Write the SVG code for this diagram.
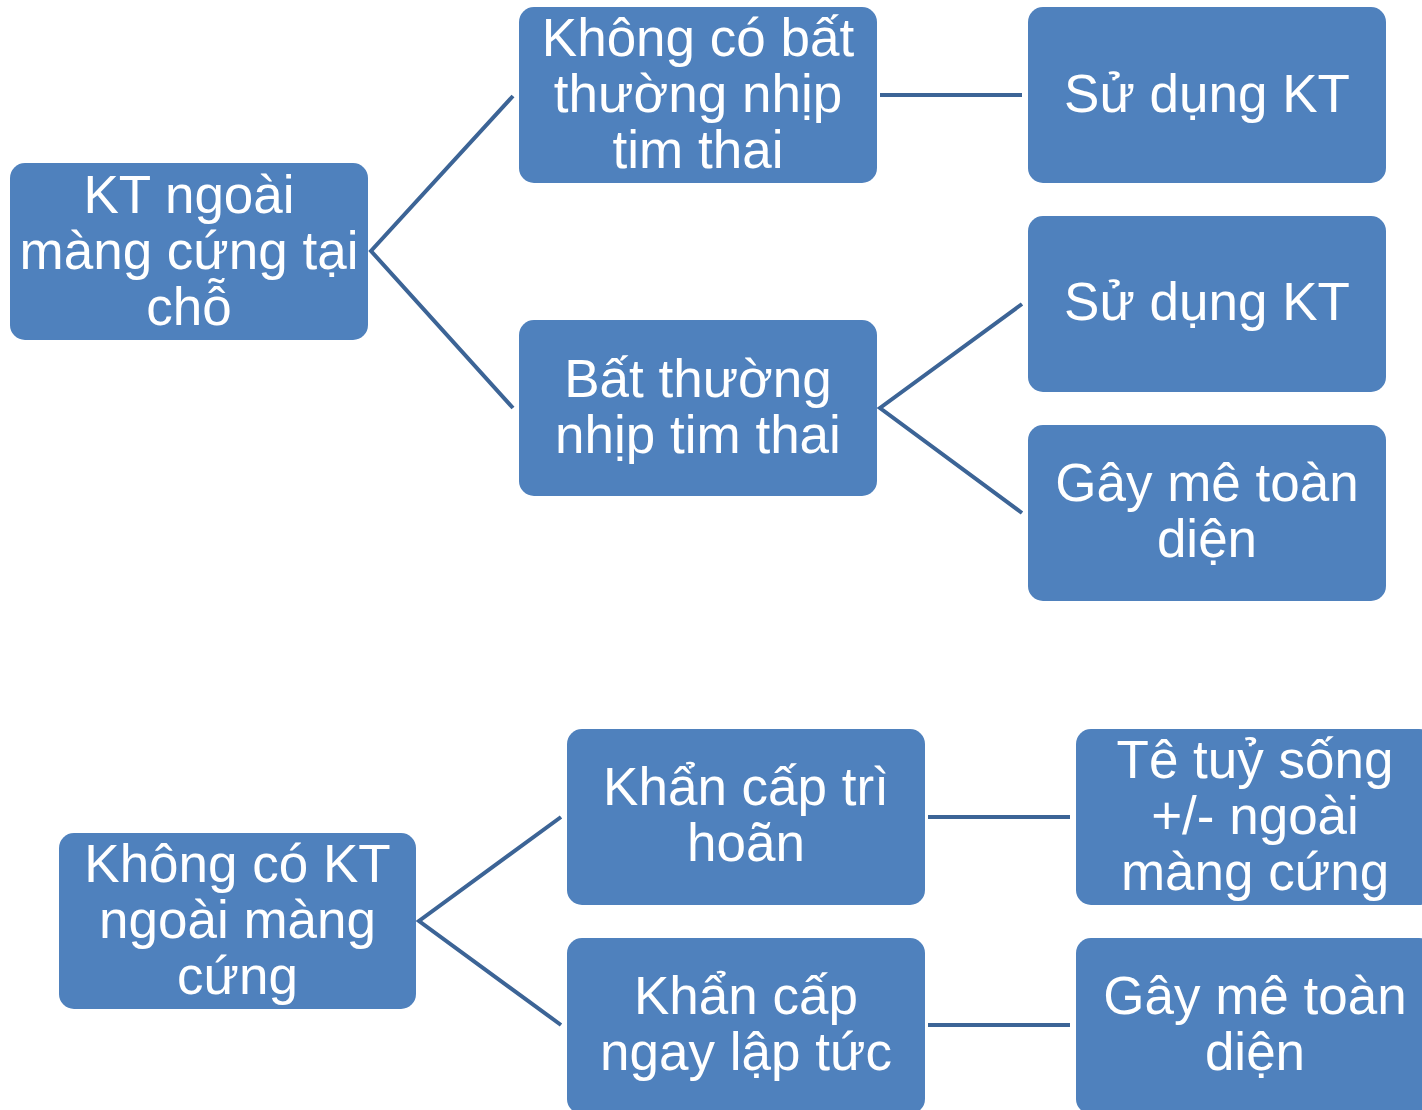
<svg xmlns="http://www.w3.org/2000/svg" width="1422" height="1110" viewBox="0 0 1422 1110">
<style>
.box{fill:#4F81BD;}
.t{font-family:"Liberation Sans",Arial,sans-serif;font-size:53px;fill:#FFFFFF;text-anchor:middle;}
.c{stroke:#3C6496;stroke-width:4;fill:none;}
</style>
<rect width="1422" height="1110" fill="#FFFFFF"/>
<g id="connectors">
<polyline class="c" points="513,96 371,251 513,408"/>
<line class="c" x1="880" y1="95" x2="1022" y2="95"/>
<polyline class="c" points="1022,304 880,408 1022,513"/>
<polyline class="c" points="561,817 419,921 561,1025"/>
<line class="c" x1="928" y1="817" x2="1070" y2="817"/>
<line class="c" x1="928" y1="1025" x2="1070" y2="1025"/>
</g>
<g id="root1">
<rect class="box" x="10" y="163" width="358" height="177" rx="15"/>
<text class="t"><tspan x="189" y="213">KT ngoài</tspan><tspan x="189" y="269">màng cứng tại</tspan><tspan x="189" y="325">chỗ</tspan></text>
</g>
<g id="nodeA">
<rect class="box" x="519" y="7" width="358" height="176" rx="15"/>
<text class="t"><tspan x="698" y="56">Không có bất</tspan><tspan x="698" y="112">thường nhịp</tspan><tspan x="698" y="168">tim thai</tspan></text>
</g>
<g id="nodeB">
<rect class="box" x="519" y="320" width="358" height="176" rx="15"/>
<text class="t"><tspan x="698" y="397">Bất thường</tspan><tspan x="698" y="453">nhịp tim thai</tspan></text>
</g>
<g id="nodeC">
<rect class="box" x="1028" y="7" width="358" height="176" rx="15"/>
<text class="t" x="1207" y="112">Sử dụng KT</text>
</g>
<g id="nodeD">
<rect class="box" x="1028" y="216" width="358" height="176" rx="15"/>
<text class="t" x="1207" y="320">Sử dụng KT</text>
</g>
<g id="nodeE">
<rect class="box" x="1028" y="425" width="358" height="176" rx="15"/>
<text class="t"><tspan x="1207" y="501">Gây mê toàn</tspan><tspan x="1207" y="557">diện</tspan></text>
</g>
<g id="root2">
<rect class="box" x="59" y="833" width="357" height="176" rx="15"/>
<text class="t"><tspan x="237.5" y="882">Không có KT</tspan><tspan x="237.5" y="938">ngoài màng</tspan><tspan x="237.5" y="994">cứng</tspan></text>
</g>
<g id="nodeF">
<rect class="box" x="567" y="729" width="358" height="176" rx="15"/>
<text class="t"><tspan x="746" y="805">Khẩn cấp trì</tspan><tspan x="746" y="861">hoãn</tspan></text>
</g>
<g id="nodeG">
<rect class="box" x="567" y="938" width="358" height="176" rx="15"/>
<text class="t"><tspan x="746" y="1014">Khẩn cấp</tspan><tspan x="746" y="1070">ngay lập tức</tspan></text>
</g>
<g id="nodeH">
<rect class="box" x="1076" y="729" width="358" height="176" rx="15"/>
<text class="t"><tspan x="1255" y="778">Tê tuỷ sống</tspan><tspan x="1255" y="834">+/- ngoài</tspan><tspan x="1255" y="890">màng cứng</tspan></text>
</g>
<g id="nodeI">
<rect class="box" x="1076" y="938" width="358" height="176" rx="15"/>
<text class="t"><tspan x="1255" y="1014">Gây mê toàn</tspan><tspan x="1255" y="1070">diện</tspan></text>
</g>
</svg>
